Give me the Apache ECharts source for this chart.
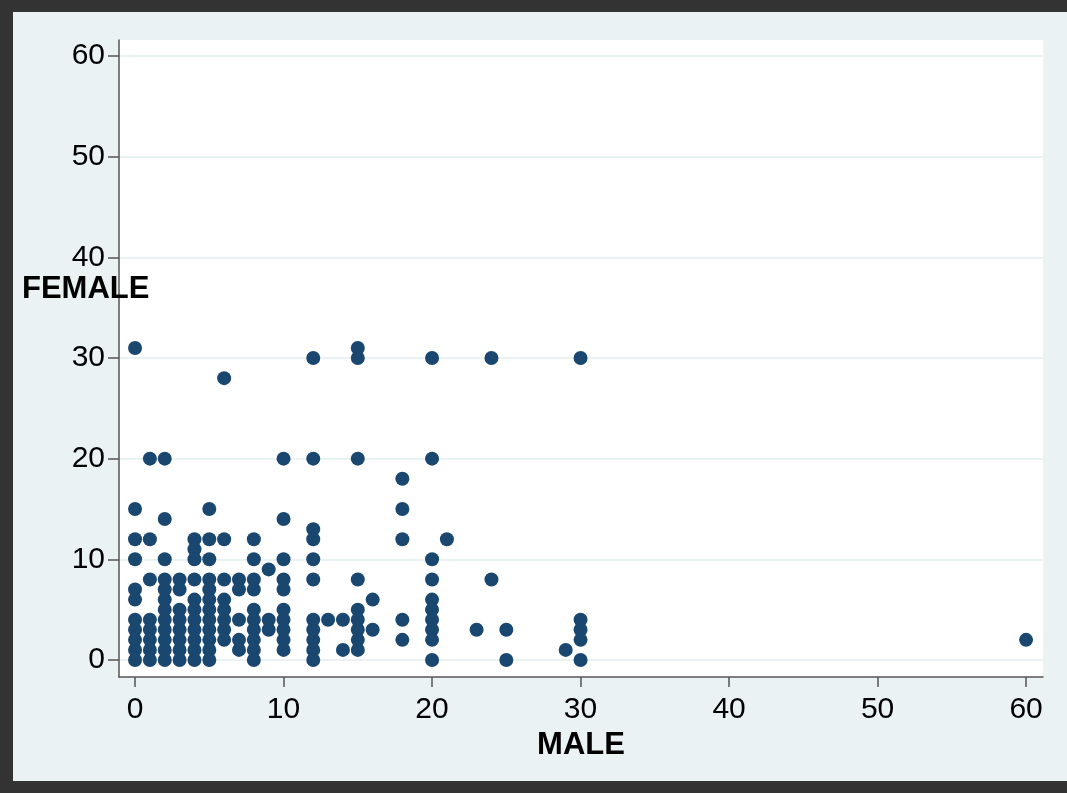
<!DOCTYPE html>
<html>
<head>
<meta charset="utf-8">
<script src="https://cdn.jsdelivr.net/npm/echarts@6/dist/echarts.min.js"></script>
<style>
html,body{margin:0;padding:0;background:#333333;width:1067px;height:793px;overflow:hidden;}
#chart{position:absolute;left:13px;top:12px;width:1054px;height:769px;}
</style>
</head>
<body>
<div id="chart"></div>
<script>
// Data: MALE (x) and FEMALE (y) values, one entry per point
const male = [
  0,0,0,0,0,0,0,0,0,0,0,
  1,1,1,1,1,1,1,1,
  2,2,2,2,2,2,2,2,2,2,2,2,
  3,3,3,3,3,3,3,3,
  4,4,4,4,4,4,4,4,4,4,4,
  5,5,5,5,5,5,5,5,5,5,5,5,
  6,6,6,6,6,6,6,6,
  7,7,7,7,7,
  8,8,8,8,8,8,8,8,8,8,
  9,9,9,
  10,10,10,10,10,10,10,10,10,10,
  12,12,12,12,12,12,12,12,12,12,12,
  13,
  14,14,
  15,15,15,15,15,15,15,15,15,
  16,16,
  18,18,18,18,18,
  20,20,20,20,20,20,20,20,20,20,
  21,
  23,
  24,24,
  25,25,
  29,
  30,30,30,30,30,
  60
];
const female = [
  31,15,12,10,7,6,4,3,2,1,0,
  20,12,8,4,3,2,1,0,
  20,14,10,8,7,6,5,4,3,2,1,0,
  8,7,5,4,3,2,1,0,
  12,11,10,8,6,5,4,3,2,1,0,
  15,12,10,8,7,6,5,4,3,2,1,0,
  28,12,8,6,5,4,3,2,
  8,7,4,2,1,
  12,10,8,7,5,4,3,2,1,0,
  9,4,3,
  20,14,10,8,7,5,4,3,2,1,
  30,20,13,12,10,8,4,3,2,1,0,
  4,
  4,1,
  31,30,20,8,5,4,3,2,1,
  6,3,
  18,15,12,4,2,
  30,20,10,8,6,5,4,3,2,0,
  12,
  3,
  30,8,
  3,0,
  1,
  30,4,3,2,0,
  2
];
const xTicks = [0,10,20,30,40,50,60];
const yTicks = [0,10,20,30,40,50,60];
const xTitle = 'MALE';
const yTitle = 'FEMALE';

const points = male.map((m, i) => [m, female[i]]);
const FONT = '"Liberation Sans", Arial, Helvetica, sans-serif';
const chart = echarts.init(document.getElementById('chart'), null, {renderer: 'canvas'});
chart.setOption({
  animation: false,
  backgroundColor: '#eaf2f3',
  grid: {
    left: 106, right: 24, top: 28, bottom: 104,
    show: true, backgroundColor: '#ffffff', borderWidth: 0
  },
  xAxis: {
    type: 'value',
    min: -1.08, max: 61.14,
    name: xTitle,
    nameLocation: 'middle',
    nameGap: 53,
    nameTextStyle: {fontFamily: FONT, fontSize: 31, fontWeight: 'bold', color: '#000'},
    axisLine: {show: true, onZero: false, lineStyle: {color: '#555555', width: 1.5}},
    axisTick: {show: true, length: 10, customValues: xTicks, lineStyle: {color: '#555555', width: 1.5}},
    axisLabel: {customValues: xTicks, margin: 18, fontFamily: FONT, fontSize: 30, color: '#000'},
    splitLine: {show: false}
  },
  yAxis: {
    type: 'value',
    min: -1.69, max: 61.59,
    axisLine: {show: true, onZero: false, lineStyle: {color: '#555555', width: 1.5}},
    axisTick: {show: true, length: 11, customValues: yTicks, lineStyle: {color: '#555555', width: 1.5}},
    axisLabel: {customValues: yTicks, margin: 14, fontFamily: FONT, fontSize: 30, color: '#000'},
    splitLine: {show: true, lineStyle: {color: '#eaf2f3', width: 2}}
  },
  graphic: [{
    type: 'text',
    left: 9,
    top: 262,
    z: 100,
    style: {text: yTitle, fontFamily: FONT, fontSize: 31, fontWeight: 'bold', fill: '#000'}
  }],
  series: [{
    type: 'scatter',
    data: points,
    symbol: 'circle',
    symbolSize: 14,
    itemStyle: {color: '#1a476f', opacity: 1},
    emphasis: {disabled: true}
  }]
});
</script>
</body>
</html>
